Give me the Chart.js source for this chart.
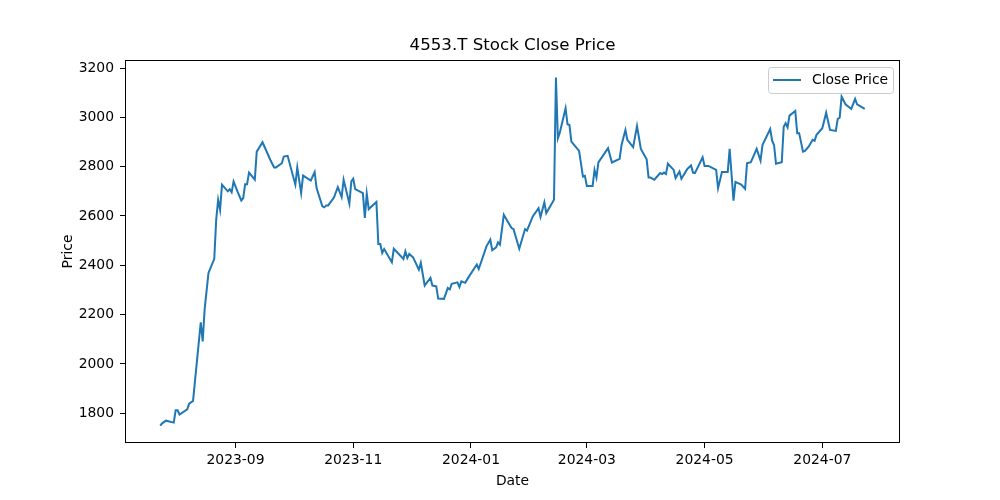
<!DOCTYPE html>
<html>
<head>
<meta charset="utf-8">
<title>4553.T Stock Close Price</title>
<script src="https://cdn.jsdelivr.net/npm/chart.js@4.4.1/dist/chart.umd.min.js"></script>
<style>
  html, body { margin: 0; padding: 0; background: #ffffff; }
  #wrap { width: 1000px; height: 500px; }
</style>
</head>
<body>
<div id="wrap"><canvas id="plotClose" width="1000" height="500"></canvas></div>
<script>
// daily closes
const dates = [
  "2023-07-24", "2023-07-25", "2023-07-27", "2023-07-31", "2023-08-01", "2023-08-02", "2023-08-03", "2023-08-07",
  "2023-08-08", "2023-08-10", "2023-08-14", "2023-08-15", "2023-08-16", "2023-08-18", "2023-08-21", "2023-08-22",
  "2023-08-23", "2023-08-24", "2023-08-25", "2023-08-28", "2023-08-29", "2023-08-30", "2023-08-31", "2023-09-02",
  "2023-09-04", "2023-09-05", "2023-09-06", "2023-09-07", "2023-09-08", "2023-09-11", "2023-09-12", "2023-09-15",
  "2023-09-19", "2023-09-21", "2023-09-22", "2023-09-25", "2023-09-26", "2023-09-28", "2023-10-02", "2023-10-03",
  "2023-10-05", "2023-10-06", "2023-10-10", "2023-10-12", "2023-10-13", "2023-10-16", "2023-10-17", "2023-10-18",
  "2023-10-19", "2023-10-22", "2023-10-24", "2023-10-26", "2023-10-27", "2023-10-30", "2023-10-31", "2023-11-01",
  "2023-11-02", "2023-11-06", "2023-11-07", "2023-11-08", "2023-11-09", "2023-11-13", "2023-11-14", "2023-11-15",
  "2023-11-16", "2023-11-17", "2023-11-21", "2023-11-22", "2023-11-27", "2023-11-28", "2023-11-29", "2023-11-30",
  "2023-12-02", "2023-12-05", "2023-12-06", "2023-12-08", "2023-12-11", "2023-12-12", "2023-12-14", "2023-12-15",
  "2023-12-18", "2023-12-20", "2023-12-21", "2023-12-22", "2023-12-25", "2023-12-26", "2023-12-27", "2023-12-29",
  "2023-12-31", "2024-01-04", "2024-01-05", "2024-01-09", "2024-01-11", "2024-01-12", "2024-01-14", "2024-01-15",
  "2024-01-16", "2024-01-18", "2024-01-20", "2024-01-22", "2024-01-23", "2024-01-26", "2024-01-29", "2024-01-30",
  "2024-02-02", "2024-02-05", "2024-02-06", "2024-02-08", "2024-02-09", "2024-02-13", "2024-02-14", "2024-02-15",
  "2024-02-16", "2024-02-19", "2024-02-20", "2024-02-21", "2024-02-22", "2024-02-26", "2024-02-28", "2024-02-29",
  "2024-03-01", "2024-03-04", "2024-03-05", "2024-03-06", "2024-03-07", "2024-03-12", "2024-03-14", "2024-03-18",
  "2024-03-19", "2024-03-21", "2024-03-22", "2024-03-25", "2024-03-27", "2024-03-29", "2024-04-01", "2024-04-02",
  "2024-04-03", "2024-04-05", "2024-04-08", "2024-04-09", "2024-04-10", "2024-04-11", "2024-04-12", "2024-04-15",
  "2024-04-16", "2024-04-18", "2024-04-19", "2024-04-22", "2024-04-24", "2024-04-25", "2024-04-26", "2024-04-30",
  "2024-05-01", "2024-05-03", "2024-05-07", "2024-05-08", "2024-05-10", "2024-05-13", "2024-05-14", "2024-05-16",
  "2024-05-17", "2024-05-20", "2024-05-22", "2024-05-23", "2024-05-25", "2024-05-28", "2024-05-30", "2024-05-31",
  "2024-06-04", "2024-06-05", "2024-06-06", "2024-06-07", "2024-06-10", "2024-06-11", "2024-06-12", "2024-06-13",
  "2024-06-14", "2024-06-17", "2024-06-18", "2024-06-19", "2024-06-21", "2024-06-22", "2024-06-24", "2024-06-26",
  "2024-06-27", "2024-06-28", "2024-07-01", "2024-07-03", "2024-07-05", "2024-07-08", "2024-07-09", "2024-07-10",
  "2024-07-11", "2024-07-13", "2024-07-16", "2024-07-18", "2024-07-19", "2024-07-23"
];

const closes = [
  1750, 1759, 1770, 1762, 1812, 1812, 1795, 1816,
  1839, 1850, 2169, 2091, 2221, 2369, 2426, 2585,
  2666, 2625, 2727, 2700, 2709, 2696, 2740, 2700,
  2663, 2673, 2729, 2729, 2776, 2747, 2861, 2899,
  2828, 2797, 2797, 2814, 2841, 2844, 2727, 2797,
  2693, 2764, 2744, 2778, 2713, 2639, 2635, 2643,
  2643, 2675, 2717, 2677, 2747, 2650, 2740, 2751,
  2709, 2693, 2592, 2690, 2628, 2657, 2486, 2486,
  2450, 2466, 2412, 2467, 2426, 2457, 2430, 2446,
  2432, 2382, 2410, 2318, 2349, 2318, 2315, 2265,
  2264, 2308, 2302, 2325, 2331, 2312, 2335, 2329,
  2355, 2403, 2385, 2477, 2504, 2461, 2473, 2493,
  2484, 2605, 2578, 2551, 2547, 2467, 2547, 2541,
  2598, 2632, 2596, 2655, 2612, 2666, 3162, 2915,
  2938, 3037, 2972, 2969, 2902, 2864, 2760, 2763,
  2722, 2722, 2787, 2756, 2817, 2875, 2817, 2832,
  2888, 2949, 2909, 2879, 2965, 2872, 2830, 2756,
  2756, 2747, 2774, 2770, 2776, 2770, 2812, 2787,
  2754, 2780, 2751, 2790, 2805, 2776, 2774, 2838,
  2803, 2803, 2787, 2713, 2778, 2778, 2872, 2662,
  2738, 2727, 2710, 2814, 2818, 2872, 2824, 2888,
  2953, 2905, 2888, 2812, 2818, 2962, 2976, 2959,
  3007, 3026, 2936, 2936, 2861, 2864, 2882, 2909,
  2905, 2929, 2956, 3019, 2949, 2945, 2994, 2999,
  3084, 3053, 3034, 3075, 3053, 3034
];

const xTickLabels = ["2023-09", "2023-11", "2024-01", "2024-03", "2024-05", "2024-07"];
const yTickValues = [1800, 2000, 2200, 2400, 2600, 2800, 3000, 3200];
const chartTitle = "4553.T Stock Close Price";

const FONT = "'DejaVu Sans', sans-serif";
const LINE_COLOR = "#1f77b4";
const LINE_WIDTH = 2;

// matplotlib style 5% margin around the data
function paddedRange(values) {
  var lo = Math.min.apply(null, values);
  var hi = Math.max.apply(null, values);
  var m = (hi - lo) * 0.05;
  return [lo - m, hi + m];
}

var xs = dates.map(function (d) { return Date.parse(d); });
var points = xs.map(function (x, i) { return { x: x, y: closes[i] }; });
var xRange = paddedRange(xs);
var yRange = paddedRange(closes);

// frame, title over the plot area, and the boxed legend in the upper right
const frameAndLegend = {
  id: "frameAndLegend",
  afterDraw: function (chart) {
    var ctx = chart.ctx;
    var a = chart.chartArea;
    ctx.save();
    ctx.strokeStyle = "#000000";
    ctx.lineWidth = 1;
    ctx.strokeRect(a.left + 0.5, a.top + 0.5, a.right - a.left - 1, a.bottom - a.top - 1);

    ctx.fillStyle = "#000000";
    ctx.font = "16.67px " + FONT;
    ctx.textAlign = "center";
    ctx.textBaseline = "middle";
    ctx.fillText(chartTitle, (a.left + a.right) / 2, a.top - 14);

    var ds = chart.data.datasets[0];
    var boxW = 125, boxH = 26, pad = 7;
    var bx = a.right - pad - boxW;
    var by = a.top + pad;
    var cy = by + boxH / 2;
    ctx.beginPath();
    ctx.roundRect(bx + 0.5, by + 0.5, boxW, boxH, 3);
    ctx.fillStyle = "rgba(255,255,255,0.8)";
    ctx.fill();
    ctx.strokeStyle = "#cccccc";
    ctx.lineWidth = 1;
    ctx.stroke();

    ctx.beginPath();
    ctx.strokeStyle = ds.borderColor;
    ctx.lineWidth = LINE_WIDTH;
    ctx.moveTo(bx + 5, cy);
    ctx.lineTo(bx + 33, cy);
    ctx.stroke();

    ctx.fillStyle = "#000000";
    ctx.font = "13.9px " + FONT;
    ctx.textBaseline = "middle";
    ctx.textAlign = "left";
    ctx.fillText(ds.label, bx + 44, cy);
    ctx.restore();
  }
};

new Chart(document.getElementById("plotClose"), {
  type: "line",
  data: {
    datasets: [
      {
        label: "Close Price",
        data: points,
        borderColor: LINE_COLOR,
        borderWidth: LINE_WIDTH,
        pointRadius: 0,
        tension: 0,
        fill: false
      }
    ]
  },
  options: {
    responsive: false,
    animation: false,
    devicePixelRatio: 1,
    events: [],
    layout: { padding: { left: 0, right: 100, top: 60, bottom: 0 } },
    plugins: {
      legend: { display: false },
      tooltip: { enabled: false },
      title: { display: false }
    },
    scales: {
      x: {
        type: "linear",
        min: xRange[0],
        max: xRange[1],
        afterBuildTicks: function (scale) {
          scale.ticks = xTickLabels.map(function (l) { return { value: Date.parse(l + "-01") }; });
        },
        afterFit: function (scale) { scale.height = 57; },
        grid: { display: true, drawOnChartArea: false, drawTicks: true, tickLength: 5, tickColor: "#000000" },
        border: { display: false },
        ticks: {
          color: "#000000",
          font: { family: FONT, size: 13.9 },
          padding: 4,
          maxRotation: 0,
          autoSkip: false,
          callback: function (value, index) { return xTickLabels[index]; }
        },
        title: {
          display: true,
          text: "Date",
          color: "#000000",
          font: { family: FONT, size: 13.9 },
          padding: { top: 0, bottom: 10 }
        }
      },
      y: {
        type: "linear",
        min: yRange[0],
        max: yRange[1],
        afterBuildTicks: function (scale) {
          scale.ticks = yTickValues.map(function (v) { return { value: v }; });
        },
        afterFit: function (scale) { scale.width = 125; },
        grid: { display: true, drawOnChartArea: false, drawTicks: true, tickLength: 5, tickColor: "#000000" },
        border: { display: false },
        ticks: {
          color: "#000000",
          font: { family: FONT, size: 13.9 },
          padding: 6,
          autoSkip: false,
          callback: function (value) { return String(value); }
        },
        title: {
          display: true,
          text: "Price",
          color: "#000000",
          font: { family: FONT, size: 13.9 },
          padding: { top: 60, bottom: 0 }
        }
      }
    }
  },
  plugins: [frameAndLegend]
});
</script>
</body>
</html>
